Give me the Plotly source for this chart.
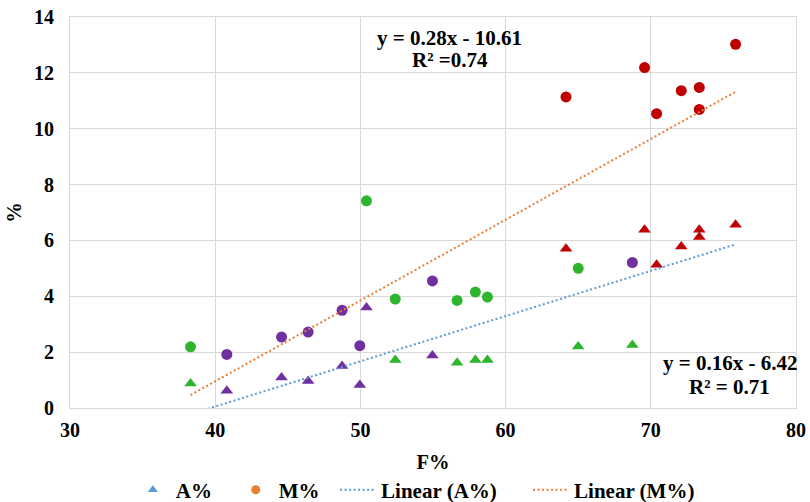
import numpy as np
import plotly.graph_objects as go

# Data
f_pct = [38.3, 40.8, 44.57, 46.4, 48.74, 49.96, 50.42, 52.4, 54.96, 56.66, 57.92,
         58.75, 64.16, 65.0, 68.73, 69.57, 70.4, 72.1, 73.34, 73.34, 75.84]
a_pct = [0.88, 0.62, 1.09, 0.97, 1.50, 0.82, 3.60, 1.72, 1.88, 1.62, 1.72,
         1.72, 5.70, 2.20, 2.26, 6.38, 5.13, 5.78, 6.38, 6.12, 6.56]
m_pct = [2.19, 1.92, 2.54, 2.72, 3.50, 2.23, 7.42, 3.90, 4.55, 3.85, 4.15,
         3.97, 11.14, 5.00, 5.21, 12.19, 10.54, 11.36, 11.48, 10.69, 13.02]

G, P, R = "#2DB52D", "#7030A0", "#C00000"
a_colors = [G, P, P, P, P, P, P, G, P, G, G, G, R, G, G, R, R, R, R, R, R]
m_colors = [G, P, P, P, P, P, G, G, P, G, G, G, R, G, P, R, R, R, R, R, R]

x_ticks = [30, 40, 50, 60, 70, 80]
y_ticks = [0, 2, 4, 6, 8, 10, 12, 14]

eq_m = ["y = 0.28x - 10.61", "R² =0.74"]
eq_a = ["y = 0.16x - 6.42", "R² = 0.71"]

FONT = "Liberation Serif"
NB = "\u00a0"

xa = np.array(f_pct)
ka, ba = np.polyfit(xa, np.array(a_pct), 1)
km, bm = np.polyfit(xa, np.array(m_pct), 1)
x_line = [min(f_pct), max(f_pct)]

fig = go.Figure()
fig.add_trace(go.Scatter(
    x=f_pct, y=a_pct, mode="markers", name="A%", showlegend=False,
    marker=dict(symbol="triangle-up", size=11, color=a_colors, line=dict(width=0))))
fig.add_trace(go.Scatter(
    x=f_pct, y=m_pct, mode="markers", name="M%", showlegend=False,
    marker=dict(symbol="circle", size=11, color=m_colors, line=dict(width=0))))
# legend entries with the series' default colours
fig.add_trace(go.Scatter(
    x=[None], y=[None], mode="markers", name="A%" + NB * 3,
    marker=dict(symbol="triangle-up", size=9, color="#5B9BD5", line=dict(width=0))))
fig.add_trace(go.Scatter(
    x=[None], y=[None], mode="markers", name="M%" + NB * 2,
    marker=dict(symbol="circle", size=9, color="#ED7D31", line=dict(width=0))))
fig.add_trace(go.Scatter(
    x=x_line, y=[ka * v + ba for v in x_line], mode="lines", name="Linear (A%)" + NB * 5,
    line=dict(color="#5B9BD5", width=2, dash="2px,2.5px")))
fig.add_trace(go.Scatter(
    x=x_line, y=[km * v + bm for v in x_line], mode="lines", name="Linear (M%)",
    line=dict(color="#ED7D31", width=2, dash="2px,2.5px")))

ann_font = dict(family=FONT, size=21, color="black", weight="bold")
fig.add_annotation(x=56.17, y=13.25, xref="x", yref="y", showarrow=False,
                   text=eq_m[0], font=ann_font)
fig.add_annotation(x=56.2, y=12.46, xref="x", yref="y", showarrow=False,
                   text=eq_m[1], font=ann_font)
fig.add_annotation(x=75.45, y=1.61, xref="x", yref="y", showarrow=False,
                   text=eq_a[0], font=ann_font)
fig.add_annotation(x=75.45, y=0.76, xref="x", yref="y", showarrow=False,
                   text=eq_a[1], font=ann_font)

fig.update_layout(
    width=810, height=502,
    margin=dict(l=70, r=14, t=17, b=94, autoexpand=False),
    paper_bgcolor="white", plot_bgcolor="white",
    font=dict(family=FONT, size=20, color="black", weight="bold"),
    showlegend=True,
    legend=dict(orientation="h", x=0.475, xanchor="center", y=-0.21, yanchor="middle",
                font=dict(family=FONT, size=21, color="black", weight="bold"),
                itemwidth=36, tracegroupgap=0),
    xaxis=dict(range=[30, 80], tickvals=x_ticks, showgrid=True, gridcolor="#D9D9D9",
               gridwidth=1, zeroline=False, showline=True, linecolor="#D9D9D9",
               mirror=True, ticks="", ticklabelstandoff=4,
               tickfont=dict(family=FONT, size=20, weight="bold"),
               title=dict(text="F%", font=dict(family=FONT, size=20.5, weight="bold"), standoff=14)),
    yaxis=dict(range=[0, 14], tickvals=y_ticks, showgrid=True, gridcolor="#D9D9D9",
               gridwidth=1, zeroline=False, showline=True, linecolor="#D9D9D9",
               mirror=True, ticks="", ticklabelstandoff=11,
               tickfont=dict(family=FONT, size=20, weight="bold"),
               title=dict(text="%", font=dict(family=FONT, size=20.5, weight="bold"), standoff=6)),
)

fig.write_html("out.html")
